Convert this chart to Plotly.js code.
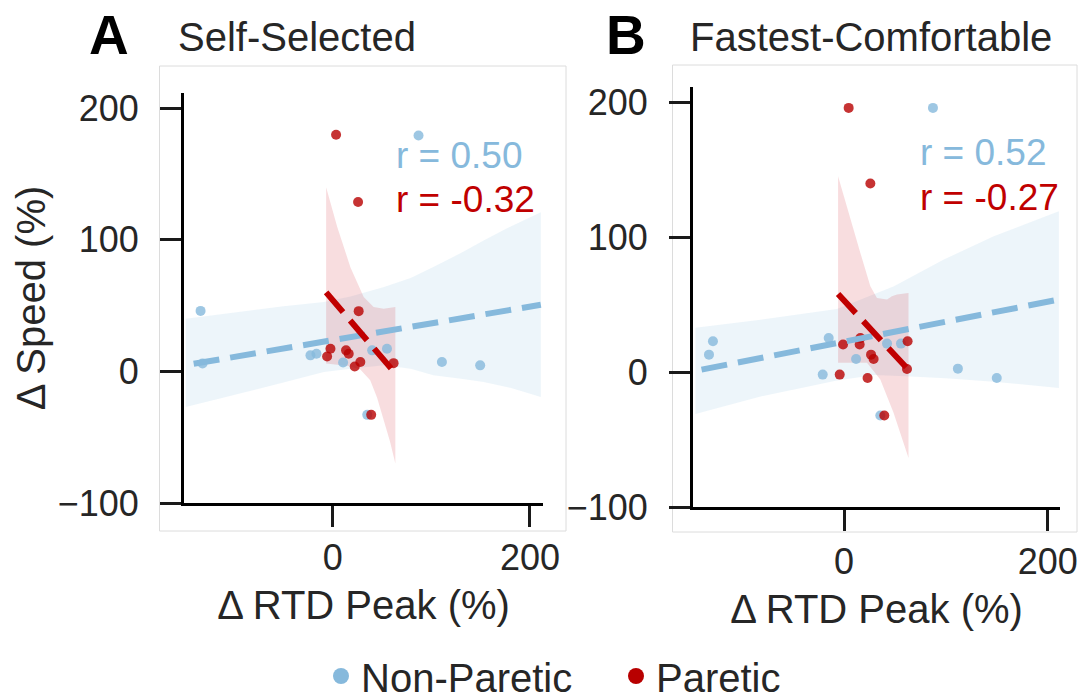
<!DOCTYPE html>
<html>
<head>
<meta charset="utf-8">
<script src="https://cdn.plot.ly/plotly-3.0.1.min.js"></script>
<style>html,body{margin:0;padding:0;background:#fff;}#chart{width:1085px;height:699px;}</style>
</head>
<body>
<div id="chart"></div>
<script>
// ---------- Panel A : Self-Selected ----------
const xA_nonParetic = [-134, -132, -22.6, -16.5, 10.5, 40, 55, 110.7, 149.5, 87, 35];
const yA_nonParetic = [46, 6, 12.2, 13.4, 6.8, 16, 17.2, 7.1, 4.6, 179.3, -33];
const xA_paretic = [3.4, 25.7, 26.3, -2.3, -5.7, 13.5, 16.2, 28, 22.3, 61.7, 39];
const yA_paretic = [179.9, 128.7, 45.8, 17.2, 11.4, 16, 13.4, 7.1, 3.8, 6.3, -33];

// fitted lines and confidence bands
const fitA_np_x = [-141, 211];
const fitA_np_y = [5.8, 50.7];
const bandA_np_x = [-149, -100, -50, -9, 18, 52, 79, 102, 130, 153, 180, 211];
const bandA_np_hi = [40, 44.7, 49.5, 52.7, 57, 64.1, 71, 79.3, 90, 99.5, 110, 121];
const bandA_np_lo = [-27, -18, -8.5, -0.5, 2, 4.6, 2, -3, -5.5, -8.1, -12.5, -19.5];

const fitA_p_x = [-6.7, 63.5];
const fitA_p_y = [60.1, -1.5];
const bandA_p_hiX = [-6.7, 4.5, 18, 31.4, 41.5, 51.6, 63.5];
const bandA_p_hi = [140, 110, 79, 56.5, 49, 47.6, 49];
const bandA_p_loX = [-6.7, 5, 18, 28, 38, 45, 52, 58, 63.5];
const bandA_p_lo = [6, 5, 4, 1.5, -6.8, -20, -37, -53, -70];

// ---------- Panel B : Fastest-Comfortable ----------
const xB_nonParetic = [87.3, -128.8, -132.7, -15.1, -21, 11.8, 42.2, 55.9, 111.8, 150, 35.6];
const yB_nonParetic = [196.3, 23, 13.1, 25.5, -1.7, 9.9, 21.3, 21.3, 2.7, -4.2, -32.1];
const xB_paretic = [4.5, 25.8, -1, 15.3, 16, 62.4, 26.5, 29, -4.3, 23.1, 61.8, 39.5];
const yB_paretic = [196.3, 140.1, 20.6, 20.6, 25.5, 23, 13.1, 9.9, -1.7, -4.2, 2.5, -32.1];

const fitB_np_x = [-140, 211];
const fitB_np_y = [2, 54];
const bandB_np_hiX = [-146, -82, -7, 49, 98, 147, 211];
const bandB_np_hi = [33, 39, 47, 63.8, 83.7, 101, 119.5];
const bandB_np_loX = [-146, -82, -7, 30, 60, 100, 147, 211];
const bandB_np_lo = [-31, -18, -6, -2, -3, -4.5, -7, -11.6];

const fitB_p_x = [-5.9, 63.3];
const fitB_p_y = [58.1, 1.8];
const bandB_p_hiX = [-5.9, 6.2, 16, 25.8, 32.3, 42.2, 47, 52, 63.3];
const bandB_p_hi = [145.5, 113.4, 88.6, 63.8, 55.2, 54, 56.4, 57.7, 58.9];
const bandB_p_loX = [-5.9, 22.5, 35.6, 48.6, 63.3];
const bandB_p_lo = [7, 7, -5.4, -30.1, -63.6];

const rLabels = {A: ['r = 0.50', 'r = -0.32'], B: ['r = 0.52', 'r = -0.27']};
const panelTitles = ['Self-Selected', 'Fastest-Comfortable'];
const panelLetters = ['A', 'B'];
const seriesNames = ['Non-Paretic', 'Paretic'];
const yTicks = [-100, 0, 100, 200];
const xTicks = [0, 200];

// ---------- styling ----------
const FONT = 'Liberation Sans, Arial, Helvetica, sans-serif';
const TXT = '#262626';
const BLUE = '#86b9dc';
const RED = '#b80000';
const REDLINE = '#c00000';
const BLUE_BAND = 'rgba(134,185,220,0.15)';
const RED_BAND = 'rgba(205,30,40,0.15)';

function band(hx, hy, lx, ly, color, xa, ya) {
  return {
    x: hx.concat(lx.slice().reverse()),
    y: hy.concat(ly.slice().reverse()),
    xaxis: xa, yaxis: ya, type: 'scatter', mode: 'lines', fill: 'toself',
    fillcolor: color, line: {width: 0}, hoverinfo: 'skip', showlegend: false
  };
}
function pts(x, y, color, xa, ya) {
  return {x: x, y: y, xaxis: xa, yaxis: ya, type: 'scatter', mode: 'markers',
    marker: {size: 10, color: color, opacity: 0.8}, showlegend: false, hoverinfo: 'skip'};
}
function fit(x, y, color, xa, ya) {
  return {x: x, y: y, xaxis: xa, yaxis: ya, type: 'scatter', mode: 'lines',
    line: {color: color, width: 6, dash: '26px,11px'}, showlegend: false, hoverinfo: 'skip'};
}

const traces = [
  band(bandA_np_x, bandA_np_hi, bandA_np_x, bandA_np_lo, BLUE_BAND, 'x', 'y'),
  band(bandA_p_hiX, bandA_p_hi, bandA_p_loX, bandA_p_lo, RED_BAND, 'x', 'y'),
  pts(xA_nonParetic, yA_nonParetic, BLUE, 'x', 'y'),
  pts(xA_paretic, yA_paretic, RED, 'x', 'y'),
  fit(fitA_np_x, fitA_np_y, BLUE, 'x', 'y'),
  fit(fitA_p_x, fitA_p_y, REDLINE, 'x', 'y'),

  band(bandB_np_hiX, bandB_np_hi, bandB_np_loX, bandB_np_lo, BLUE_BAND, 'x2', 'y2'),
  band(bandB_p_hiX, bandB_p_hi, bandB_p_loX, bandB_p_lo, RED_BAND, 'x2', 'y2'),
  pts(xB_nonParetic, yB_nonParetic, BLUE, 'x2', 'y2'),
  pts(xB_paretic, yB_paretic, RED, 'x2', 'y2'),
  fit(fitB_np_x, fitB_np_y, BLUE, 'x2', 'y2'),
  fit(fitB_p_x, fitB_p_y, REDLINE, 'x2', 'y2'),

  // legend entries
  {x: [null], y: [null], type: 'scatter', mode: 'markers', name: seriesNames[0],
   marker: {size: 21, color: BLUE}, showlegend: true, hoverinfo: 'skip'},
  {x: [null], y: [null], type: 'scatter', mode: 'markers', name: seriesNames[1],
   marker: {size: 21, color: RED}, showlegend: true, hoverinfo: 'skip'}
];

function xax(domain, range, title) {
  return {domain: domain, range: range, tickvals: xTicks, ticks: 'outside', ticklen: 21,
    tickwidth: 3, tickcolor: '#1a1a1a', showline: true, linecolor: '#000', linewidth: 3,
    showgrid: false, zeroline: false, ticklabelstandoff: 0, automargin: false,
    tickfont: {family: FONT, size: 36, color: TXT},
    title: {text: title, font: {family: FONT, size: 40, color: TXT}, standoff: 14}};
}
function yax(domain, range, anchor, title) {
  const o = {domain: domain, range: range, anchor: anchor, tickvals: yTicks, ticks: 'outside', ticklen: 21,
    tickwidth: 3, tickcolor: '#1a1a1a', showline: true, linecolor: '#000', linewidth: 3,
    showgrid: false, zeroline: false, ticklabelstandoff: 14, automargin: false,
    tickfont: {family: FONT, size: 36, color: TXT}};
  if (title) o.title = {text: title, font: {family: FONT, size: 40, color: TXT}, standoff: 0};
  return o;
}

const W = 1085, H = 699;
const px = v => v / W, py = v => 1 - v / H;

const layout = {
  width: W, height: H, autosize: false,
  margin: {l: 0, r: 0, t: 0, b: 0, pad: 0, autoexpand: false},
  paper_bgcolor: '#fff', plot_bgcolor: 'rgba(0,0,0,0)',
  hovermode: false,
  font: {family: FONT, color: TXT},
  xaxis: Object.assign(xax([px(184), px(543)], [-150.8, 213.2], 'Δ RTD Peak (%)'), {anchor: 'y'}),
  yaxis: yax([py(503), py(93)], [-100, 211.6], 'x', 'Δ Speed (%)'),
  xaxis2: Object.assign(xax([px(693), px(1060)], [-148.4, 212.1], 'Δ RTD Peak (%)'), {anchor: 'y2'}),
  yaxis2: yax([py(507), py(87)], [-100, 211.8], 'x2', null),
  showlegend: true,
  legend: {orientation: 'h', x: px(321), xanchor: 'left', y: py(676), yanchor: 'middle',
    entrywidth: 250, entrywidthmode: 'pixels',
    font: {family: FONT, size: 40, color: TXT}, bgcolor: 'rgba(0,0,0,0)', itemclick: false},
  shapes: [
    {type: 'rect', xref: 'paper', yref: 'paper', x0: px(159.5), x1: px(566), y0: py(531), y1: py(66),
     line: {color: '#dcdcdc', width: 1}, layer: 'below'},
    {type: 'rect', xref: 'paper', yref: 'paper', x0: px(672.5), x1: px(1077), y0: py(532), y1: py(65),
     line: {color: '#dcdcdc', width: 1}, layer: 'below'}
  ],
  annotations: [
    {text: '<b>' + panelLetters[0] + '</b>', xref: 'paper', yref: 'paper', x: px(87), y: py(35),
     xanchor: 'left', yanchor: 'middle', showarrow: false, font: {family: FONT, size: 55, color: '#000'}},
    {text: panelTitles[0], xref: 'paper', yref: 'paper', x: px(176), y: py(37),
     xanchor: 'left', yanchor: 'middle', showarrow: false, font: {family: FONT, size: 40, color: TXT}},
    {text: '<b>' + panelLetters[1] + '</b>', xref: 'paper', yref: 'paper', x: px(604), y: py(35),
     xanchor: 'left', yanchor: 'middle', showarrow: false, font: {family: FONT, size: 55, color: '#000'}},
    {text: panelTitles[1], xref: 'paper', yref: 'paper', x: px(688), y: py(37),
     xanchor: 'left', yanchor: 'middle', showarrow: false, font: {family: FONT, size: 40, color: TXT}},

    {text: rLabels.A[0], xref: 'x', yref: 'y', x: 62, y: 164, xanchor: 'left', yanchor: 'middle',
     showarrow: false, font: {family: FONT, size: 37, color: BLUE}},
    {text: rLabels.A[1], xref: 'x', yref: 'y', x: 62, y: 131, xanchor: 'left', yanchor: 'middle',
     showarrow: false, font: {family: FONT, size: 37, color: REDLINE}},
    {text: rLabels.B[0], xref: 'x2', yref: 'y2', x: 72.5, y: 163.5, xanchor: 'left', yanchor: 'middle',
     showarrow: false, font: {family: FONT, size: 37, color: BLUE}},
    {text: rLabels.B[1], xref: 'x2', yref: 'y2', x: 72.5, y: 129.7, xanchor: 'left', yanchor: 'middle',
     showarrow: false, font: {family: FONT, size: 37, color: REDLINE}}
  ]
};

Plotly.newPlot('chart', traces, layout, {displayModeBar: false, staticPlot: true});
</script>
</body>
</html>
